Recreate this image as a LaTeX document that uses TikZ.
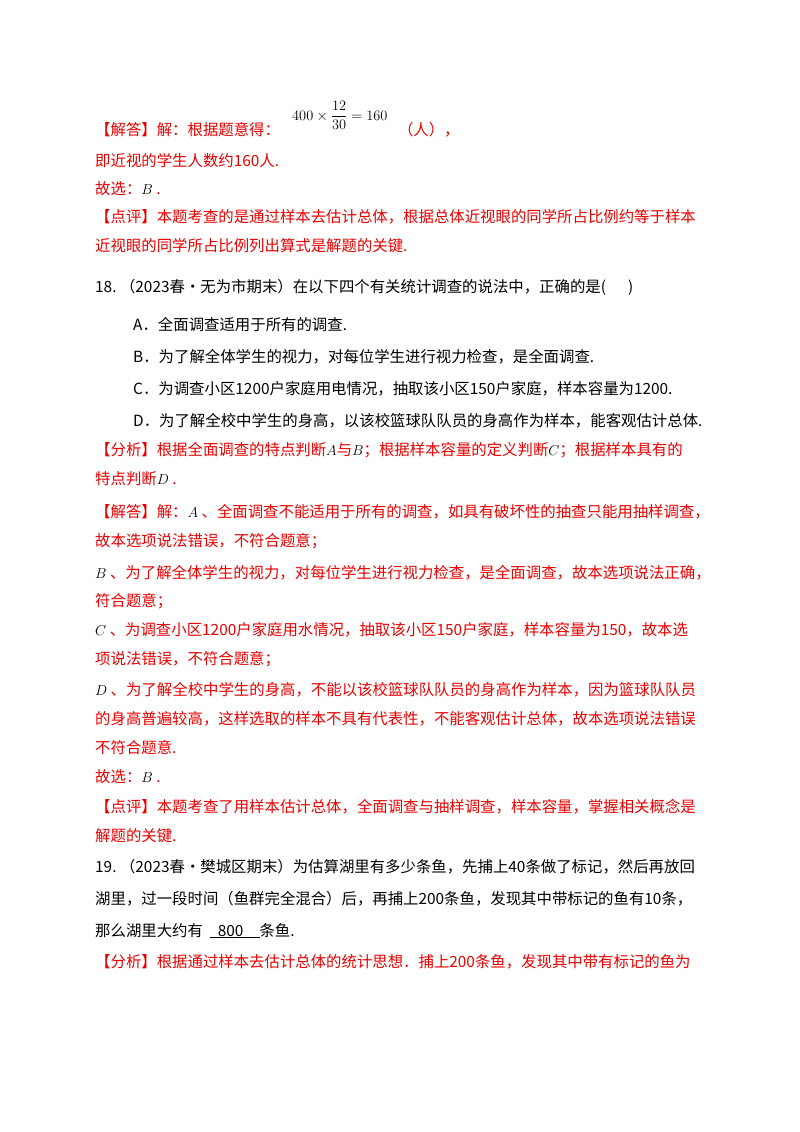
\documentclass[tikz,border=0pt]{standalone}
\usepackage{fontspec}
\setmainfont{Noto Sans CJK SC}
\definecolor{rd}{RGB}{235,0,0}
\newcommand{\mk}[1]{\textcolor{black}{$#1$}}
\begin{document}
\begin{tikzpicture}[x=1pt,y=-1pt,
 ln/.style={anchor=base west,inner sep=0,font=\fontsize{15.4}{15}\selectfont},
 r/.style={ln,text=rd}]
\useasboundingbox[fill=white] (0,0) rectangle (800,1132);
\node[ln] (f) at (292,120) {$\displaystyle 400\times\frac{12}{30}=160$};
\node[r] (l1) at (95,135) {【解答】解：根据题意得：\hspace{118pt}（人），};
\node[r] (l2) at (95,166) {即近视的学生人数约160人.};
\node[r] (l3) at (95,194) {故选：\mk{B} .};
\node[r] (l4) at (95,222) {【点评】本题考查的是通过样本去估计总体，根据总体近视眼的同学所占比例约等于样本};
\node[r] (l5) at (95,251) {近视眼的同学所占比例列出算式是解题的关键.};
\node[ln] (q18) at (95,292) {18.\ （2023春•无为市期末）在以下四个有关统计调查的说法中，正确的是(\hspace{22pt})};
\node[ln] (a) at (133,330) {A．全面调查适用于所有的调查.};
\node[ln] (b) at (133,362) {B．为了解全体学生的视力，对每位学生进行视力检查，是全面调查.};
\node[ln] (c) at (133,394) {C．为调查小区1200户家庭用电情况，抽取该小区150户家庭，样本容量为1200.};
\node[ln] (d) at (133,426) {D．为了解全校中学生的身高，以该校篮球队队员的身高作为样本，能客观估计总体.};
\node[r] (m1) at (95,455) {【分析】根据全面调查的特点判断\mk{A}与\mk{B}；根据样本容量的定义判断\mk{C}；根据样本具有的};
\node[r] (m2) at (95,484) {特点判断\mk{D} .};
\node[r] (m3) at (95,517) {【解答】解：\mk{A} 、全面调查不能适用于所有的调查，如具有破坏性的抽查只能用抽样调查，};
\node[r] (m4) at (95,546) {故本选项说法错误，不符合题意；};
\node[r] (m5) at (95,578) {\mk{B} 、为了解全体学生的视力，对每位学生进行视力检查，是全面调查，故本选项说法正确，};
\node[r] (m6) at (95,606) {符合题意；};
\node[r] (m7) at (95,635) {\mk{C} 、为调查小区1200户家庭用水情况，抽取该小区150户家庭，样本容量为150，故本选};
\node[r] (m8) at (95,664) {项说法错误，不符合题意；};
\node[r] (m9) at (95,695) {\mk{D} 、为了解全校中学生的身高，不能以该校篮球队队员的身高作为样本，因为篮球队队员};
\node[r] (m10) at (95,724) {的身高普遍较高，这样选取的样本不具有代表性，不能客观估计总体，故本选项说法错误};
\node[r] (m11) at (95,753) {不符合题意.};
\node[r] (m12) at (95,782) {故选：\mk{B} .};
\node[r] (m13) at (95,812) {【点评】本题考查了用样本估计总体，全面调查与抽样调查，样本容量，掌握相关概念是};
\node[r] (m14) at (95,841) {解题的关键.};
\node[ln] (q19) at (95,872) {19.\ （2023春•樊城区期末）为估算湖里有多少条鱼，先捕上40条做了标记，然后再放回};
\node[ln] (q19b) at (95,904) {湖里，过一段时间（鱼群完全混合）后，再捕上200条鱼，发现其中带标记的鱼有10条，};
\node[ln] (q19c) at (95,936) {那么湖里大约有\ \ \underline{\hspace{8pt}800\hspace{16pt}}条鱼.};
\node[r] (n1) at (95,967) {【分析】根据通过样本去估计总体的统计思想．捕上200条鱼，发现其中带有标记的鱼为};
\end{tikzpicture}
\end{document}
